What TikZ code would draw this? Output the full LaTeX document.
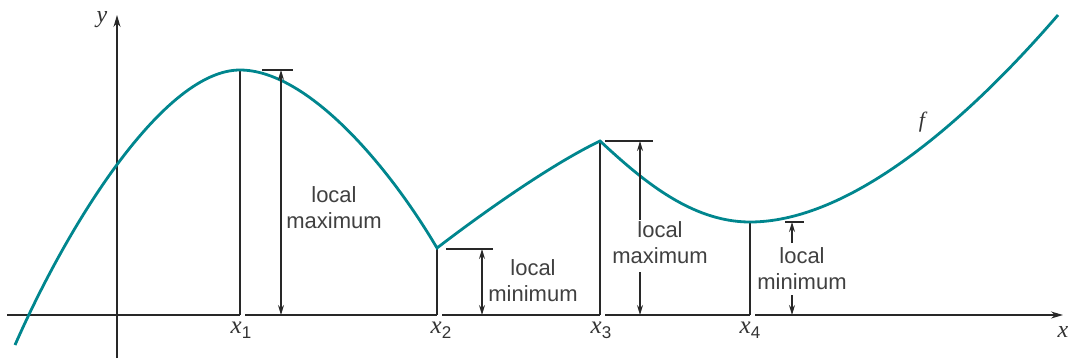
\documentclass[tikz,border=0pt]{standalone}
\usepackage{fontspec}
\setmainfont{Liberation Serif}
\setsansfont{Liberation Sans}
\usetikzlibrary{arrows.meta}
\definecolor{curvecol}{RGB}{0,134,142}
\definecolor{axiscol}{RGB}{40,40,40}
\begin{document}
\begin{tikzpicture}[x=1pt,y=-1pt,
  axis/.style={draw=axiscol,line width=1.3pt},
  vline/.style={draw=axiscol,line width=1.1pt},
  tickline/.style={draw=axiscol,line width=1.6pt},
  dim/.style={draw=axiscol,line width=1.2pt,-{Stealth[length=10pt,width=6pt]}},
  dimboth/.style={draw=axiscol,line width=1.2pt,{Stealth[length=10pt,width=6pt]}-{Stealth[length=10pt,width=6pt]}},
  lbl/.style={font=\sffamily\fontsize{22}{26}\selectfont,text=black!75,align=center,inner sep=0pt},
  xl/.style={font=\fontsize{25}{25}\selectfont,inner sep=0pt,text=black!80},
  curve/.style={draw=curvecol,line width=2.8pt}]
\useasboundingbox (0,0) rectangle (1070,360);
% key points
\coordinate (P1) at (240,70);
\coordinate (P2) at (437,248);
\coordinate (P3) at (600,141);
\coordinate (P4) at (750,222);
\coordinate (B1) at (240,315);
\coordinate (B2) at (437,315);
\coordinate (B3) at (600,315);
\coordinate (B4) at (750,315);
% axes
\draw[axis] (7,315) -- (B1);
\draw[axis] (245,315) -- (B2);
\draw[axis] (442,315) -- (B3);
\draw[axis] (605,315) -- (B4);
\coordinate (xend) at (1063,315);
\draw[axis,-{Stealth[length=12pt,width=7pt]}] (755,315) -- (xend);
\coordinate (ybot) at (117,358);
\coordinate (ytop) at (117,15);
\draw[axis,-{Stealth[length=12pt,width=7pt]}] (ybot) -- (ytop);
\node[xl,font=\itshape\fontsize{24}{24}\selectfont] (xlab) at (1063,332) {x};
\node[xl,font=\itshape\fontsize{24}{24}\selectfont] (ylab) at (102,20) {y};
% vertical lines
\draw[vline] (P1) -- (B1);
\draw[vline] (P2) -- (B2);
\draw[vline] (P3) -- (B3);
\draw[vline] (P4) -- (B4);
% x labels
\node[xl] (x1) at (241,330) {\textit{x}\raisebox{-5pt}{\sffamily\fontsize{17}{17}\selectfont 1}};
\node[xl] (x2) at (441,330) {\textit{x}\raisebox{-5pt}{\sffamily\fontsize{17}{17}\selectfont 2}};
\node[xl] (x3) at (601,330) {\textit{x}\raisebox{-5pt}{\sffamily\fontsize{17}{17}\selectfont 3}};
\node[xl] (x4) at (750,330) {\textit{x}\raisebox{-5pt}{\sffamily\fontsize{17}{17}\selectfont 4}};
% curve
\draw[curve] (15,345) .. controls (70,220) and (165,70) .. (P1)
  .. controls (305,70) and (385,160) .. (P2)
  .. controls (480,215) and (550,165) .. (P3)
  .. controls (640,178) and (690,222) .. (P4)
  .. controls (840,222) and (950,140) .. (1058,15);
\node[xl,font=\itshape\fontsize{22}{22}\selectfont] (flab) at (922,122) {f};
% local max 1
\coordinate (t1a) at (262,70); \coordinate (t1b) at (293,70);
\draw[tickline] (t1a) -- (t1b);
\coordinate (a1t) at (281,70); \coordinate (a1b) at (281,315);
\draw[dimboth] (a1b) -- (a1t);
\node[lbl] (m1) at (334,208) {local\\maximum};
% local min 2
\coordinate (t2a) at (446,249); \coordinate (t2b) at (493,249);
\draw[tickline] (t2a) -- (t2b);
\coordinate (a2t) at (482,249); \coordinate (a2b) at (482,315);
\draw[dimboth] (a2b) -- (a2t);
\node[lbl] (m2) at (533,281) {local\\minimum};
% local max 3
\coordinate (t3a) at (605,141); \coordinate (t3b) at (653,141);
\draw[tickline] (t3a) -- (t3b);
\coordinate (a3t) at (640,141); \coordinate (a3b) at (640,315);
\node[lbl] (m3) at (660,243) {local\\maximum};
\draw[dim] (640,220) -- (a3t);
\draw[dim] (640,272) -- (a3b);
% local min 4
\coordinate (t4a) at (785,222); \coordinate (t4b) at (804,222);
\draw[tickline] (t4a) -- (t4b);
\coordinate (a4t) at (792,222); \coordinate (a4b) at (792,315);
\node[lbl] (m4) at (802,269) {local\\minimum};
\draw[dim] (792,243) -- (a4t);
\draw[dim] (792,295) -- (a4b);
\end{tikzpicture}
\end{document}
